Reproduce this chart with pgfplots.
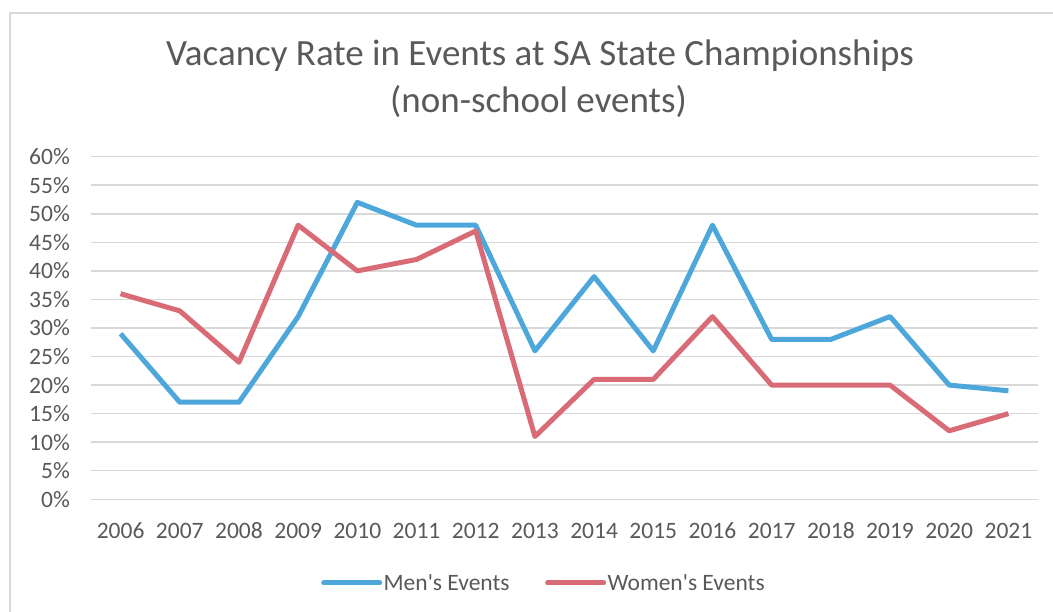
\documentclass[border=0pt]{standalone}
\usepackage{pgfplots}
\pgfplotsset{compat=1.18}
\usepackage{fontspec}
\setmainfont{Carlito}
\definecolor{menblue}{HTML}{4EA7DA}
\definecolor{womenred}{HTML}{D96B76}
\definecolor{txtgray}{HTML}{595959}
\definecolor{gridgray}{HTML}{D9D9D9}
\begin{document}
\begin{tikzpicture}
\useasboundingbox (0,0) rectangle (1053bp,612bp);
\draw[gridgray, line width=1.5bp] (10bp,0) -- (10bp,599bp) -- (1053bp,599bp);
\node[anchor=base, text=txtgray, font=\fontsize{37bp}{42bp}\selectfont, inner sep=0pt] at (540bp,546bp) {Vacancy Rate in Events at SA State Championships};
\node[anchor=base, text=txtgray, font=\fontsize{37bp}{42bp}\selectfont, inner sep=0pt] at (538.5bp,499bp) {(non-school events)};
\begin{axis}[
  at={(91bp,112.7bp)}, anchor=south west,
  scale only axis, width=947bp, height=342.6bp,
  xmin=-0.5, xmax=15.5, ymin=0, ymax=60,
  xtick={0,...,15},
  xticklabels={2006,2007,2008,2009,2010,2011,2012,2013,2014,2015,2016,2017,2018,2019,2020,2021},
  ytick={0,5,...,60},
  yticklabels={0\%,5\%,10\%,15\%,20\%,25\%,30\%,35\%,40\%,45\%,50\%,55\%,60\%},
  axis line style={draw=none},
  major tick length=0pt,
  ymajorgrids, grid style={gridgray, line width=1.5bp},
  tick label style={text=txtgray, font=\fontsize{23.5bp}{28bp}\selectfont},
  yticklabel style={anchor=east, inner sep=0pt, xshift=-21bp},
  xticklabel style={anchor=base, inner sep=0pt, yshift=-38.7bp},
  legend columns=2,
  legend style={at={(0.478,-0.244)}, anchor=center, draw=none, fill=none,
    font=\fontsize{23.5bp}{28bp}\selectfont, text=txtgray,
    /tikz/every even column/.append style={column sep=34bp},
    nodes={inner xsep=1.5bp, inner ysep=0pt}},
  legend image code/.code={\draw[#1, line cap=round] (0bp,0bp) -- (56bp,0bp);},
  clip=false,
]
\addplot[menblue, line width=5bp, line join=round] coordinates {
(0,29) (1,17) (2,17) (3,32) (4,52) (5,48) (6,48) (7,26) (8,39) (9,26) (10,48) (11,28) (12,28) (13,32) (14,20) (15,19)};
\addlegendentry{Men\textquotesingle s Events}
\addplot[womenred, line width=5bp, line join=round] coordinates {
(0,36) (1,33) (2,24) (3,48) (4,40) (5,42) (6,47) (7,11) (8,21) (9,21) (10,32) (11,20) (12,20) (13,20) (14,12) (15,15)};
\addlegendentry{Women\textquotesingle s Events}
\end{axis}
\end{tikzpicture}
\end{document}
